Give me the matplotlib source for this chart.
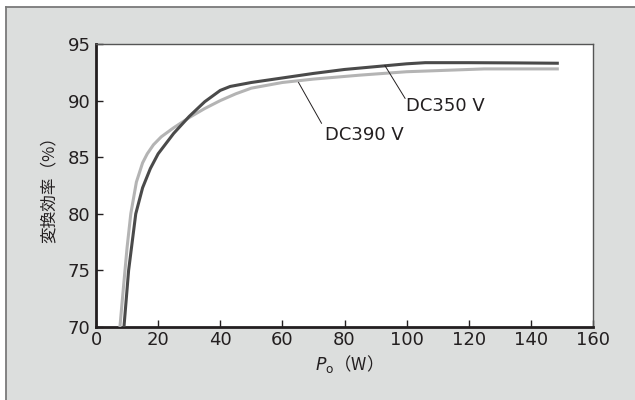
import matplotlib.pyplot as plt
from matplotlib.patches import Rectangle
from matplotlib.lines import Line2D

plt.rcParams['font.family'] = ['DejaVu Sans', 'Noto Sans CJK JP']

# DC350V
p350 = [9.0, 10.5, 12.8, 15.0, 17.5, 20.0, 25.0, 30.0, 35.0, 40.0, 43.2, 50.0, 60.0, 70.0, 80.0, 90.0, 100.0, 106.0, 120.0, 135.0, 149.0]
e350 = [70.0, 75.0, 80.0, 82.3, 84.0, 85.3, 87.1, 88.6, 89.9, 90.9, 91.25, 91.6, 92.0, 92.4, 92.75, 93.0, 93.25, 93.35, 93.35, 93.33, 93.3]
# DC390V
p390 = [7.7, 9.0, 10.0, 11.2, 13.0, 15.0, 16.5, 18.5, 21.0, 25.0, 30.0, 35.0, 40.0, 45.0, 50.0, 60.0, 70.0, 85.0, 100.0, 125.0, 149.0]
e390 = [70.0, 74.0, 77.0, 80.0, 82.8, 84.5, 85.3, 86.1, 86.8, 87.6, 88.5, 89.3, 90.0, 90.6, 91.1, 91.6, 91.9, 92.25, 92.55, 92.8, 92.8]

fig = plt.figure(figsize=(6.35, 4.0), dpi=100)
fig.patch.set_facecolor('white')
fig.patches.append(Rectangle((5.5 / 635, 0), 1, 1 - 6.5 / 400, transform=fig.transFigure,
                             facecolor='#dcdedd', edgecolor='none', zorder=-2))
fig.lines.append(Line2D([5.5 / 635, 5.5 / 635], [0, 1 - 6.5 / 400], transform=fig.transFigure,
                        color='#7a7a7a', lw=1.3, zorder=-1))
fig.lines.append(Line2D([5.5 / 635, 1], [1 - 6.5 / 400, 1 - 6.5 / 400], transform=fig.transFigure,
                        color='#7a7a7a', lw=1.3, zorder=-1))

ax = fig.add_axes([96 / 635, 1 - 327 / 400, (593 - 96) / 635, (327 - 44) / 400])
ax.set_facecolor('white')

ax.plot(p390, e390, color='#b4b4b4', lw=2.2, solid_capstyle='butt', zorder=3)
ax.plot(p350, e350, color='#4a4a4a', lw=2.2, solid_capstyle='butt', zorder=4)

ax.set_xlim(0, 160)
ax.set_ylim(70, 95)
ax.set_xticks(range(0, 161, 20))
ax.set_yticks(range(70, 96, 5))
ax.tick_params(direction='in', length=5, width=1, colors='#231f20', labelsize=13, pad=4)
ax.tick_params(axis='x', pad=3)
for s in ['left', 'bottom']:
    ax.spines[s].set_linewidth(2)
    ax.spines[s].set_color('#231f20')
for s in ['top', 'right']:
    ax.spines[s].set_linewidth(1)
    ax.spines[s].set_color('#555555')

ax.set_ylabel('変換効率（%）', family=['Noto Sans CJK JP', 'DejaVu Sans'], fontsize=12, labelpad=7,
              color='#231f20')
ax.set_xlabel('$P_{\\mathrm{o}}$（W）', family=['Noto Sans CJK JP', 'DejaVu Sans'], fontsize=12.5, labelpad=3,
              color='#231f20')

ax.plot([93, 99.5], [93.1, 90.2], color='#231f20', lw=0.7, zorder=5)
ax.text(99.8, 89.5, 'DC350 V', fontsize=13, va='center', ha='left', color='#231f20')
ax.plot([65.2, 72.6], [91.6, 88.0], color='#231f20', lw=0.7, zorder=5)
ax.text(73.6, 87.0, 'DC390 V', fontsize=13, va='center', ha='left', color='#231f20')

fig.savefig('out.png', dpi=100)
